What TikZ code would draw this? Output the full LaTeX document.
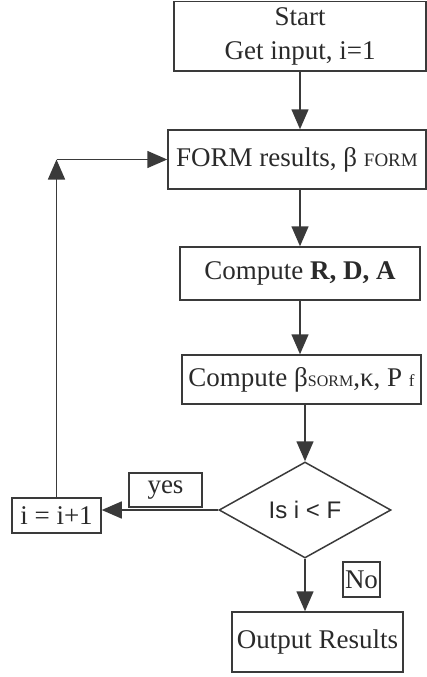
\documentclass[tikz,border=0pt]{standalone}
\usepackage{fontspec}
\setmainfont{Liberation Serif}
\newfontfamily\sansf{Liberation Sans}
\usetikzlibrary{shapes.geometric,arrows.meta}
\definecolor{linec}{HTML}{3A3A3A}
\definecolor{txtc}{HTML}{2A2A2A}
\newcommand{\mainfs}{\fontsize{27}{34}\selectfont}
\newcommand{\subfs}[2]{{\fontsize{#1}{#1}\selectfont #2}}
\tikzset{
  box/.style={draw=linec, line width=1.5pt, inner sep=0pt, text=txtc, font=\mainfs, align=center},
  conn/.style={draw=linec, line width=1.5pt, -{Triangle[length=20pt,width=17pt]}}
}
\begin{document}
\begin{tikzpicture}[x=1pt,y=-1pt]
\useasboundingbox (0,0) rectangle (427,677);
\node[box, minimum width=252pt, minimum height=69.5pt] (start) at (300,36.5) {Start\\Get input, i=1};
\node[box, minimum width=258pt, minimum height=59pt] (form) at (297,159.5) {FORM results, β \subfs{19}{FORM}};
\node[box, minimum width=240pt, minimum height=53pt] (compr) at (300,273.5) {Compute \textbf{R, D, A}};
\node[box, minimum width=239pt, minimum height=49pt] (compb) at (301.5,379.5) {Compute β\subfs{16}{SORM},κ, P \subfs{17}{f}};
\node[box, shape=diamond, minimum width=172pt, minimum height=96pt, font=\sansf\fontsize{24}{24}\selectfont] (dia) at (305,510) {Is i < F};
\node[box, minimum width=89pt, minimum height=35pt] (inc) at (56.5,515.5) {i = i+1};
\node[box, minimum width=73pt, minimum height=34pt] (yes) at (165.5,490) {yes};
\node[box, minimum width=37pt, minimum height=35pt] (no) at (361.5,579.5) {No};
\node[box, minimum width=171pt, minimum height=60pt] (out) at (317.5,642) {Output Results};
\coordinate (corner) at (inc.north |- form.west);
\draw[conn] (start.south) -- (start.south |- form.north);
\draw[conn] (compr.north |- form.south) -- (compr.north);
\draw[conn] (compr.south) -- (compr.south |- compb.north);
\draw[conn] (dia.north |- compb.south) -- (dia.north);
\draw[conn] (dia.west) -- (dia.west -| inc.east);
\draw[conn] (dia.south) -- (dia.south |- out.north);
\draw[conn] (inc.north) -- (corner);
\draw[conn] (corner) -- (form.west);
\end{tikzpicture}
\end{document}
